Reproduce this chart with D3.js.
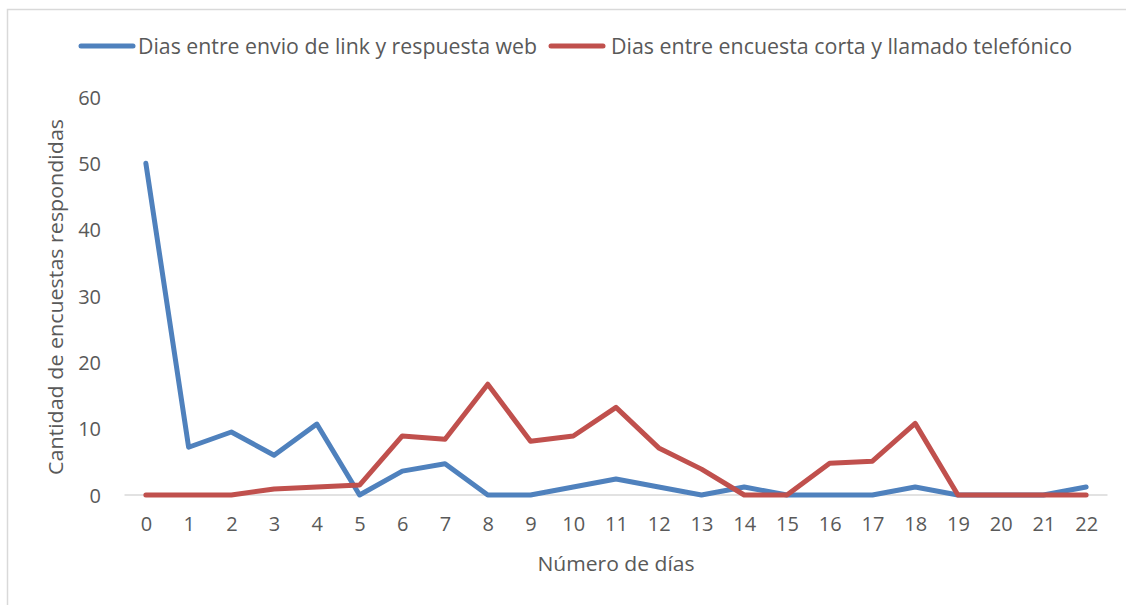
<!DOCTYPE html>
<html>
<head>
<meta charset="utf-8">
<script src="https://cdn.jsdelivr.net/npm/d3@7"></script>
<style>
  html, body { margin: 0; padding: 0; background: #fff; }
  svg { display: block; }
  text { font-family: "Open Sans", "Liberation Sans", sans-serif; fill: #595959; }
</style>
</head>
<body>
<script>
const days = [0,1,2,3,4,5,6,7,8,9,10,11,12,13,14,15,16,17,18,19,20,21,22];
const webValues = [50,7.2,9.5,6,10.7,0,3.6,4.7,0,0,1.2,2.4,1.2,0,1.2,0,0,0,1.2,0,0,0,1.2];
const phoneValues = [0,0,0,0.9,1.2,1.5,8.9,8.4,16.7,8.1,8.9,13.2,7.1,3.9,0,0,4.8,5.1,10.8,0,0,0,0];
const yTicks = [0,10,20,30,40,50,60];
const seriesNames = ["Dias entre envio de link y respuesta web", "Dias entre encuesta corta y llamado telefónico"];
const seriesColors = ["#4f81bd", "#c0504d"];
const xTitle = "Número de días";
const yTitle = "Cantidad de encuestas respondidas";

const W = 1126, H = 605;
const svg = d3.select("body").append("svg").attr("width", W).attr("height", H);

// chart frame
svg.append("rect").attr("x", 7.5).attr("y", 9.5).attr("width", W + 10).attr("height", H + 10)
  .attr("fill", "none").attr("stroke", "#d9d9d9").attr("stroke-width", 1.5);

const plotLeft = 124.5, plotRight = 1107.5, plotTop = 97, plotBottom = 495;

const x = d3.scalePoint().domain(days).range([plotLeft, plotRight]).padding(0.5);
const y = d3.scaleLinear().domain([0, 60]).range([plotBottom, plotTop]);

// baseline
svg.append("line").attr("x1", plotLeft).attr("x2", plotRight)
  .attr("y1", y(0)).attr("y2", y(0)).attr("stroke", "#d9d9d9").attr("stroke-width", 1.5);

// y axis
const yAxis = d3.axisLeft(y).tickValues(yTicks).tickSize(0).tickPadding(0);
const gy = svg.append("g").attr("transform", `translate(101,0)`).call(yAxis);
gy.select(".domain").remove();
gy.selectAll("text").style("font-size", "20px").attr("fill", "#595959").attr("dy", "0.35em");

// x axis
const xAxis = d3.axisBottom(x).tickSize(0).tickPadding(0);
const gx = svg.append("g").attr("transform", `translate(0,${plotBottom})`).call(xAxis);
gx.select(".domain").remove();
gx.selectAll("text").style("font-size", "20px").attr("fill", "#595959").attr("y", 22).attr("dy", "0.71em");

// axis titles
svg.append("text").attr("x", 616).attr("y", 571).attr("text-anchor", "middle")
  .style("font-size", "20px").attr("textLength", 157).attr("lengthAdjust", "spacingAndGlyphs").text(xTitle);
svg.append("text").attr("transform", `translate(63,${297}) rotate(-90)`).attr("text-anchor", "middle")
  .style("font-size", "20px").attr("textLength", 356).attr("lengthAdjust", "spacingAndGlyphs").text(yTitle);

// lines
const line = d3.line().x((d, i) => x(days[i])).y(d => y(d));
[webValues, phoneValues].forEach((vals, k) => {
  svg.append("path").datum(vals).attr("d", line).attr("fill", "none")
    .attr("stroke", seriesColors[k]).attr("stroke-width", 5)
    .attr("stroke-linejoin", "round").attr("stroke-linecap", "round");
});

// legend
const legendItems = [
  { sx: 81, tx: 138, len: 399 },
  { sx: 551, tx: 611, len: 461 }
];
legendItems.forEach((it, k) => {
  svg.append("line").attr("x1", it.sx).attr("x2", it.sx + 52).attr("y1", 46).attr("y2", 46)
    .attr("stroke", seriesColors[k]).attr("stroke-width", 5).attr("stroke-linecap", "round");
  svg.append("text").attr("x", it.tx).attr("y", 54).style("font-size", "21px")
    .attr("textLength", it.len).attr("lengthAdjust", "spacingAndGlyphs").text(seriesNames[k]);
});
</script>
</body>
</html>
